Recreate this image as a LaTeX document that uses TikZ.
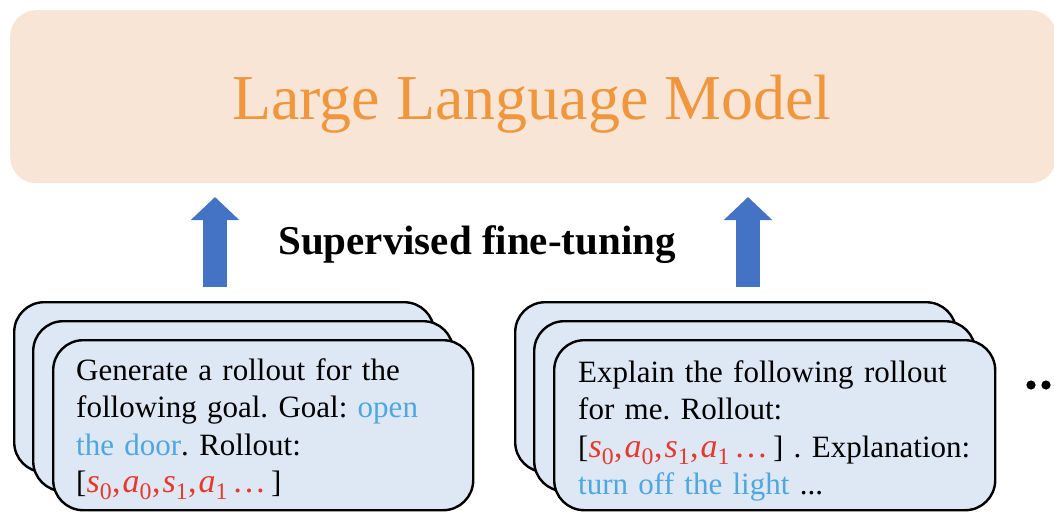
\documentclass[tikz,border=0pt]{standalone}
\usepackage{fontspec}
\setmainfont{Liberation Serif}
\usetikzlibrary{arrows.meta}

\definecolor{llmfill}{RGB}{248,229,214}
\definecolor{llmtext}{RGB}{240,150,60}
\definecolor{arrowblue}{RGB}{68,114,196}
\definecolor{cardfill}{RGB}{222,232,244}
\definecolor{tokred}{RGB}{232,56,46}
\definecolor{goalblue}{RGB}{78,167,222}

% a state/action token with its index
\newcommand{\tok}[2]{\textit{#1}\textsubscript{#2}}
\newcommand{\rollseq}{{\color{tokred}\fontsize{34}{37.5}\selectfont
  \tok{s}{0},\kern2pt\tok{a}{0},\kern2pt\tok{s}{1},\kern2pt\tok{a}{1}\kern4pt…}}

\begin{document}
\frenchspacing
\begin{tikzpicture}[x=1pt,y=-1pt,
  llmbox/.style={fill=llmfill, rounded corners=26pt, inner sep=0pt, anchor=north west,
    minimum width=1046pt, minimum height=173pt},
  card/.style={draw=black, line width=2.4pt, fill=cardfill, rounded corners=30pt,
    inner sep=0pt, anchor=north west, minimum height=170pt},
  cardtext/.style={anchor=base west, inner sep=0pt, align=left, text width=450pt,
    font=\fontsize{31}{37.5}\selectfont},
  up/.style={draw=arrowblue, line width=24pt, -{Triangle[width=47pt,length=23pt]}}
]
\useasboundingbox (0,0) rectangle (1054,511);

% model block
\node[llmbox] (llm) at (10,10) {};
\node[anchor=base, inner sep=0pt, text=llmtext, font=\fontsize{64}{70}\selectfont]
  (llmlabel) at (532,119) {Large Language Model};

% fine-tuning arrows and caption
\coordinate (la0) at (215,287);
\coordinate (la1) at (215,197);
\coordinate (ra0) at (748,287);
\coordinate (ra1) at (748,197);
\draw[up] (la0) -- (la1);
\draw[up] (ra0) -- (ra1);
\node[anchor=base west, inner sep=0pt, font=\bfseries\fontsize{41}{48}\selectfont]
  (sft) at (278,254) {Supervised fine-tuning};

% left stack of prompts
\node[card, minimum width=420pt] (gback) at (13,301) {};
\node[card, minimum width=420pt] (gmid) at (32,320) {};
\node[card, minimum width=420pt] (gfront) at (52,339) {};
\node[cardtext] (gtext) at (76,380)
  {Generate a rollout for the\\
   following goal. Goal: {\color{goalblue}open}\\
   {\color{goalblue}the door}. Rollout:\\
   {[}\rollseq\kern5pt]};

% right stack of prompts
\node[card, minimum width=441pt] (eback) at (514,301) {};
\node[card, minimum width=441pt] (emid) at (533,320) {};
\node[card, minimum width=441pt] (efront) at (553,339) {};
\node[cardtext] (etext) at (578,382)
  {Explain the following rollout\\
   for me. Rollout:\\
   {[}\rollseq\kern5pt] . Explanation:\\
   {\color{goalblue}turn off the light} ...};

% more stacks follow
\fill (1031,385) circle (4.6pt);
\fill (1046,385) circle (4.6pt);
\fill (1061,385) circle (4.6pt);
\end{tikzpicture}
\end{document}
